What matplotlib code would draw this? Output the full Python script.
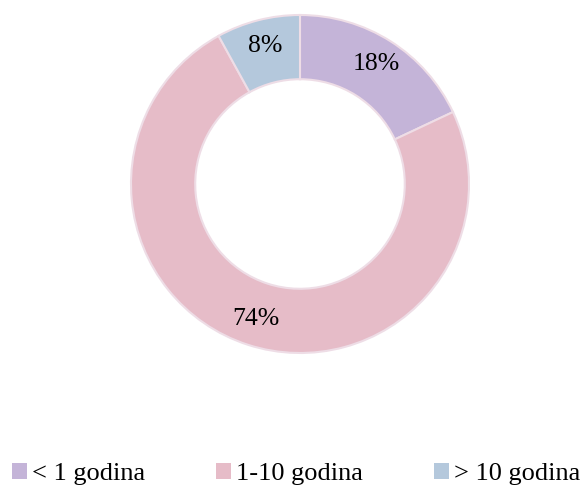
import matplotlib.pyplot as plt
from matplotlib.patches import Patch

plt.rcParams['font.family'] = ['Liberation Serif', 'DejaVu Serif']

categories = ['< 1 godina', '1-10 godina', '> 10 godina']
values = [18, 74, 8]
colors = ['#C4B4D8', '#E6BCC8', '#B4C8DC']

fig = plt.figure(figsize=(5.86, 4.91), dpi=100)
ax = fig.add_axes([131 / 586, 138 / 491, 338 / 586, 338 / 491])

wedges, texts, autotexts = ax.pie(
    values, colors=colors, startangle=90, counterclock=False, radius=1,
    autopct='%1.0f%%', pctdistance=0.84,
    wedgeprops=dict(width=0.38, edgecolor='#EEDDE6', linewidth=1.5),
    textprops=dict(fontsize=18.5, color='black'))
ax.set_xlim(-1, 1)
ax.set_ylim(-1, 1)
ax.set_aspect('equal')
ax.axis('off')

# one legend entry per column, placed like the original
legend_x = [12, 216, 434]
for i, c in enumerate(colors):
    fig.legend([Patch(facecolor=c, edgecolor='none')], [categories[i]],
               loc='center left', bbox_to_anchor=(legend_x[i] / 586, 1 - 474 / 491),
               frameon=False, fontsize=19, handlelength=0.55, handleheight=0.55,
               handletextpad=0.2, borderpad=0, borderaxespad=0)

fig.savefig('out.png', dpi=100)
